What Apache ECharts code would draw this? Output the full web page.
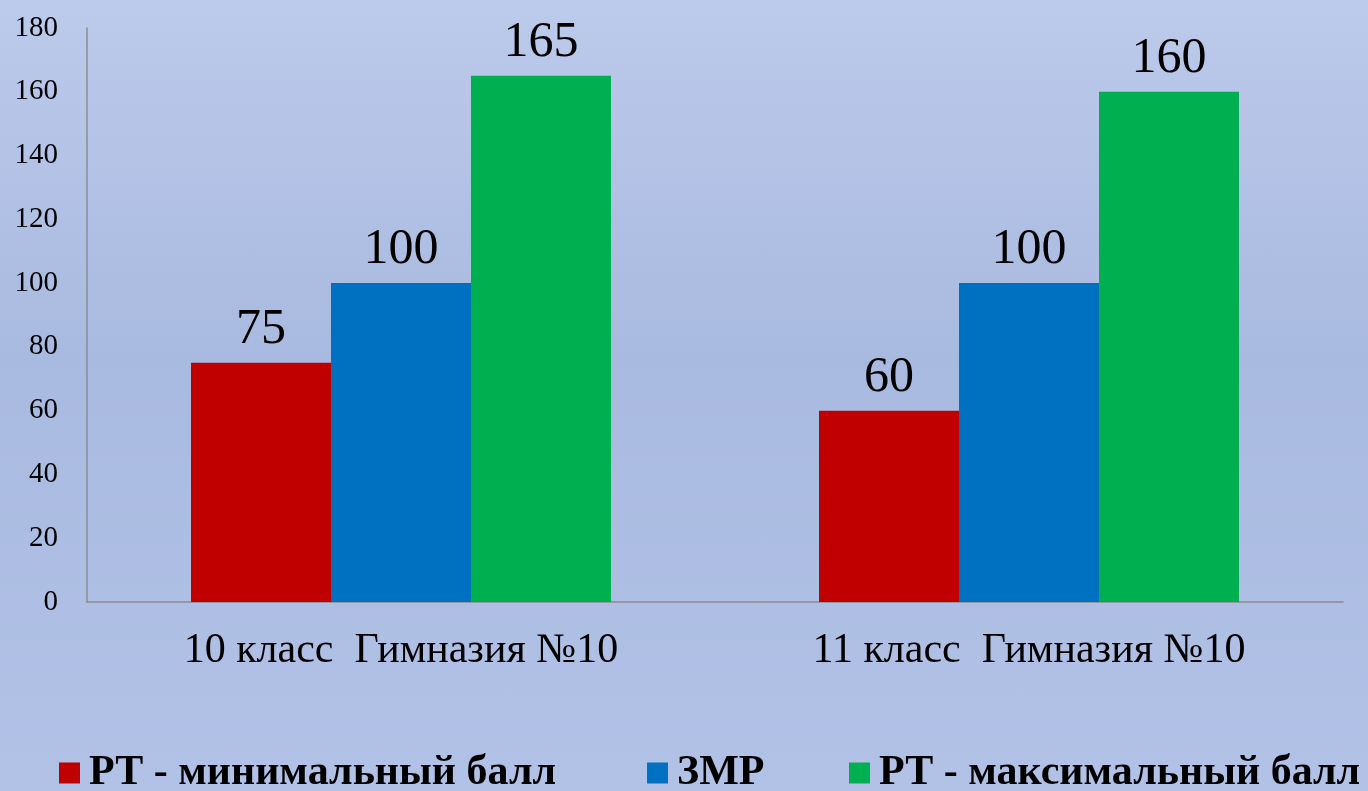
<!DOCTYPE html>
<html>
<head>
<meta charset="utf-8">
<style>
html,body{margin:0;padding:0;width:1368px;height:791px;overflow:hidden;
background:linear-gradient(to bottom,#bccaeb 0%,#a9bae0 45%,#b2c2e7 100%);}
#main{width:1368px;height:791px;}
</style>
<script src="https://cdn.jsdelivr.net/npm/echarts@6/dist/echarts.min.js"></script>
</head>
<body>
<div id="main"></div>
<script>
var categories = ['10 класс  Гимназия №10', '11 класс  Гимназия №10'];
var seriesNames = ['РТ - минимальный балл', 'ЗМР', 'РТ - максимальный балл'];
var minScore = [75, 60];
var zmrScore = [100, 100];
var maxScore = [165, 160];
var colors = ['#c00000', '#0070c0', '#00b050'];

var chart = echarts.init(document.getElementById('main'));
var font = '"Liberation Serif", "Times New Roman", serif';
var legendStyle = {fontFamily: font, fontSize: 42, fontWeight: 'bold', color: '#000', padding: [0, 0, 0, 4]};

function legend(name, left) {
  return {
    data: [name], left: left, top: 752, itemWidth: 21, itemHeight: 21, itemGap: 0,
    icon: 'rect', textStyle: legendStyle, selectedMode: false, padding: 0
  };
}

function bar(name, data, color) {
  return {
    name: name, type: 'bar', data: data, barWidth: 140, barGap: '0%',
    itemStyle: {color: color},
    label: {show: true, position: 'top', distance: 8, fontFamily: font, fontSize: 50, color: '#000'}
  };
}

chart.setOption({
  animation: false,
  grid: {left: 87, right: 25, top: 28, bottom: 189, containLabel: false},
  legend: [
    legend(seriesNames[0], 59),
    legend(seriesNames[1], 647),
    legend(seriesNames[2], 849)
  ],
  xAxis: {
    type: 'category', data: categories,
    axisLine: {lineStyle: {color: '#8c8c8c', width: 1.5}},
    axisTick: {show: false},
    axisLabel: {fontFamily: font, fontSize: 42, color: '#000', margin: 28}
  },
  yAxis: {
    type: 'value', min: 0, max: 180, interval: 20,
    axisLine: {show: true, lineStyle: {color: '#8c8c8c', width: 1.5}},
    axisTick: {show: false},
    splitLine: {show: false},
    axisLabel: {fontFamily: font, fontSize: 29, color: '#000', margin: 29}
  },
  series: [
    bar(seriesNames[0], minScore, colors[0]),
    bar(seriesNames[1], zmrScore, colors[1]),
    bar(seriesNames[2], maxScore, colors[2])
  ]
});
</script>
</body>
</html>
